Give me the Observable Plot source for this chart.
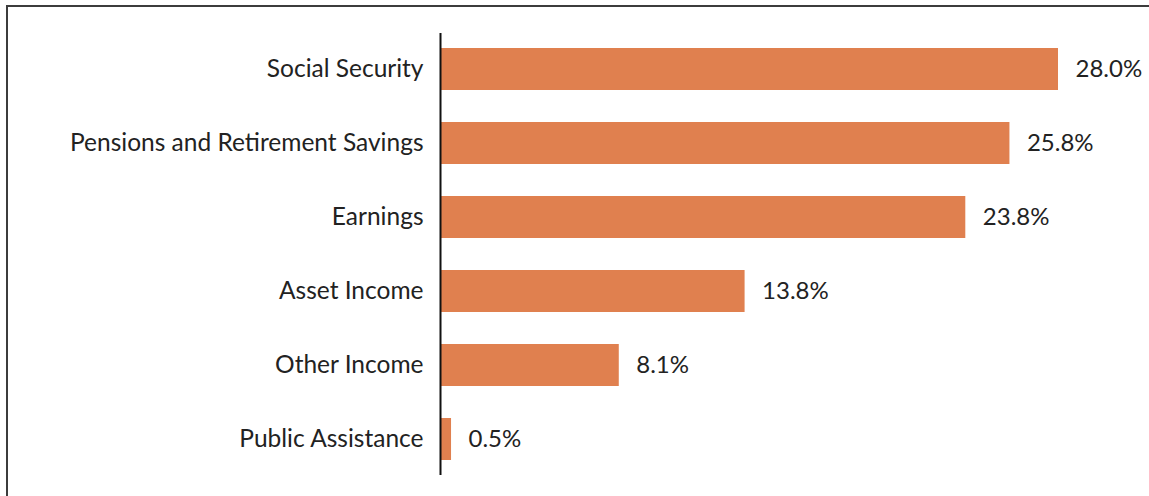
<!DOCTYPE html>
<html>
<head>
<meta charset="utf-8">
<script src="https://cdn.jsdelivr.net/npm/d3@7"></script>
<script src="https://cdn.jsdelivr.net/npm/@observablehq/plot@0.6"></script>
<style>
  html, body { margin: 0; padding: 0; background: #fff; }
  #wrap { position: relative; width: 1149px; height: 496px; overflow: hidden; }
  #frame { position: absolute; left: 6px; top: 5px; right: -10px; bottom: -10px;
           border-top: 2px solid #3c3c3c; border-left: 2px solid #3c3c3c; pointer-events: none; }
  #chart { position: absolute; left: 0; top: 0; }
</style>
</head>
<body>
<div id="wrap"><div id="chart"></div><div id="frame"></div></div>
<script>
const categories = ["Social Security", "Pensions and Retirement Savings", "Earnings", "Asset Income", "Other Income", "Public Assistance"];
const values = [28.0, 25.8, 23.8, 13.8, 8.1, 0.5];
const labels = ["28.0%", "25.8%", "23.8%", "13.8%", "8.1%", "0.5%"];

const data = categories.map((c, i) => ({category: c, value: values[i], label: labels[i]}));
const font = "Lato, 'Open Sans', sans-serif";

const chart = Plot.plot({
  width: 1149,
  height: 496,
  marginLeft: 440,
  marginRight: 91,
  marginTop: 33,
  marginBottom: 21,
  style: {fontFamily: font, background: "transparent"},
  x: {domain: [0, 28], axis: null},
  y: {domain: categories, paddingInner: 0.43, paddingOuter: 0.2, label: null},
  marks: [
    Plot.barX(data, {x: "value", y: "category", fill: "#E0804F"}),
    Plot.text(data, {x: "value", y: "category", text: "label", textAnchor: "start", dx: 17, fontSize: 24, fill: "#222", fontFamily: font}),
    Plot.axisY({tickSize: 0, tickPadding: 17, fontSize: 24.5, fill: "#222", label: null, fontFamily: font}),
    Plot.ruleX([0], {stroke: "#111", strokeWidth: 2})
  ]
});
document.getElementById("chart").appendChild(chart);
</script>
</body>
</html>
